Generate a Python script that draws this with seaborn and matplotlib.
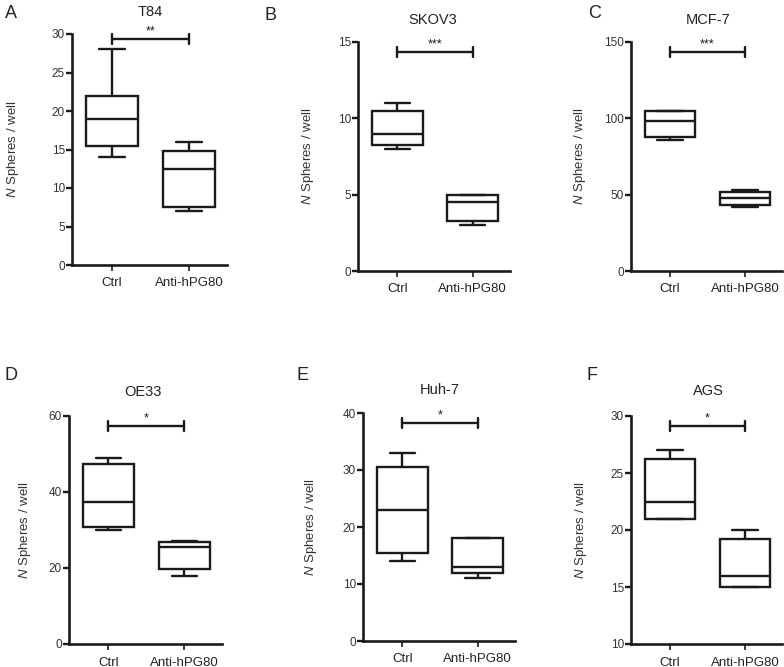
import matplotlib
matplotlib.use("Agg")
import matplotlib.pyplot as plt
import seaborn as sns
import pandas as pd

sns.set_style("ticks")
plt.rcParams['font.family'] = ['Liberation Sans', 'DejaVu Sans']
plt.rcParams['mathtext.fontset'] = 'custom'
plt.rcParams['mathtext.it'] = 'Liberation Sans:italic'
plt.rcParams['mathtext.rm'] = 'Liberation Sans'

groups = ["Ctrl", "Anti-hPG80"]
titles = ["T84", "SKOV3", "MCF-7", "OE33", "Huh-7", "AGS"]
letters = ["A", "B", "C", "D", "E", "F"]
stars = ["**", "***", "***", "*", "*", "*"]

# five-number summaries (min, q1, median, q3, max)
t84_ctrl = [14, 15.5, 19, 22, 28]
t84_anti = [7, 7.5, 12.5, 14.75, 16]
skov3_ctrl = [8, 8.25, 9, 10.5, 11]
skov3_anti = [3, 3.25, 4.5, 5, 5]
mcf7_ctrl = [86, 87.5, 98, 104.5, 105]
mcf7_anti = [42, 43, 48, 52, 53]
oe33_ctrl = [30, 30.75, 37.5, 47.25, 49]
oe33_anti = [18, 19.75, 25.5, 26.75, 27]
huh7_ctrl = [14, 15.5, 23, 30.5, 33]
huh7_anti = [11, 12, 13, 18, 18]
ags_ctrl = [21, 21, 22.5, 26.25, 27]
ags_anti = [15, 15, 16, 19.25, 20]

ctrl_sets = [t84_ctrl, skov3_ctrl, mcf7_ctrl, oe33_ctrl, huh7_ctrl, ags_ctrl]
anti_sets = [t84_anti, skov3_anti, mcf7_anti, oe33_anti, huh7_anti, ags_anti]

ylims = [(0, 30), (0, 15), (0, 150), (0, 60), (0, 40), (10, 30)]
yticks = [[0, 5, 10, 15, 20, 25, 30], [0, 5, 10, 15], [0, 50, 100, 150],
          [0, 20, 40, 60], [0, 10, 20, 30, 40], [10, 15, 20, 25, 30]]
sig_y = [29.35, 14.35, 143.5, 57.4, 38.2, 29.1]

W, H = 784, 667
fig = plt.figure(figsize=(W / 100, H / 100), dpi=100)

# axes rectangles in pixels: left, right, top, bottom
rects = [(72, 227, 34, 265), (358, 510, 42, 271), (631, 782, 42, 271),
         (69, 222, 416, 644), (363, 515, 413, 641), (631, 782, 416, 644)]
ylab_off = [51, 42, 43, 36, 44, 42]
title_pos = [(150, 12), (433, 20), (708, 20), (143, 392), (440, 390), (708, 391)]
letter_pos = [(5, 14), (265, 16), (588, 14), (5, 376), (296, 376), (587, 376)]

ink = "#1a1a1a"
for i in range(6):
    l, r, t, b = rects[i]
    ax = fig.add_axes([l / W, 1 - b / H, (r - l) / W, (b - t) / H])
    df = pd.DataFrame({
        "group": [groups[0]] * len(ctrl_sets[i]) + [groups[1]] * len(anti_sets[i]),
        "value": ctrl_sets[i] + anti_sets[i],
    })
    sns.boxplot(data=df, x="group", y="value", order=groups, ax=ax,
                whis=(0, 100), width=0.67, color="white", linecolor=ink,
                linewidth=1.7, fliersize=0)
    ax.set_ylim(*ylims[i])
    ax.set_yticks(yticks[i])
    ax.set_xlim(-40 / 77, 1 + 38 / 77)
    sns.despine(ax=ax)
    for sp in ["left", "bottom"]:
        ax.spines[sp].set_linewidth(1.9)
        ax.spines[sp].set_color(ink)
        ax.spines[sp].set_zorder(5)
    ax.tick_params(axis="y", length=4, width=1.7, color=ink, labelsize=8.5,
                   labelcolor="#333333", pad=1)
    ax.tick_params(axis="x", length=4, width=1.2, color=ink, labelsize=9.5,
                   labelcolor="#222222", pad=5)
    ax.set_xlabel("")
    ax.set_ylabel(r"$N$ Spheres / well", fontsize=9.5, color="#333333")
    ax.yaxis.set_label_coords(-ylab_off[i] / (r - l), 0.5)
    ax.patch.set_alpha(0)
    # significance bar
    yy = sig_y[i]
    d = (ylims[i][1] - ylims[i][0]) * 0.022
    ax.plot([0, 1], [yy, yy], color=ink, lw=1.7, clip_on=False)
    ax.plot([0, 0], [yy - d, yy + d], color=ink, lw=1.7, clip_on=False)
    ax.plot([1, 1], [yy - d, yy + d], color=ink, lw=1.7, clip_on=False)
    ax.text(0.5, yy + d * 0.3, stars[i], ha="center", va="bottom", fontsize=9,
            color=ink, clip_on=False)
    fig.text(title_pos[i][0] / W, 1 - title_pos[i][1] / H, titles[i],
             ha="center", va="center", fontsize=10.5, color="#222222")
    fig.text(letter_pos[i][0] / W, 1 - letter_pos[i][1] / H, letters[i],
             ha="left", va="center", fontsize=13, color="#222222")

fig.savefig("out.png", dpi=100)
